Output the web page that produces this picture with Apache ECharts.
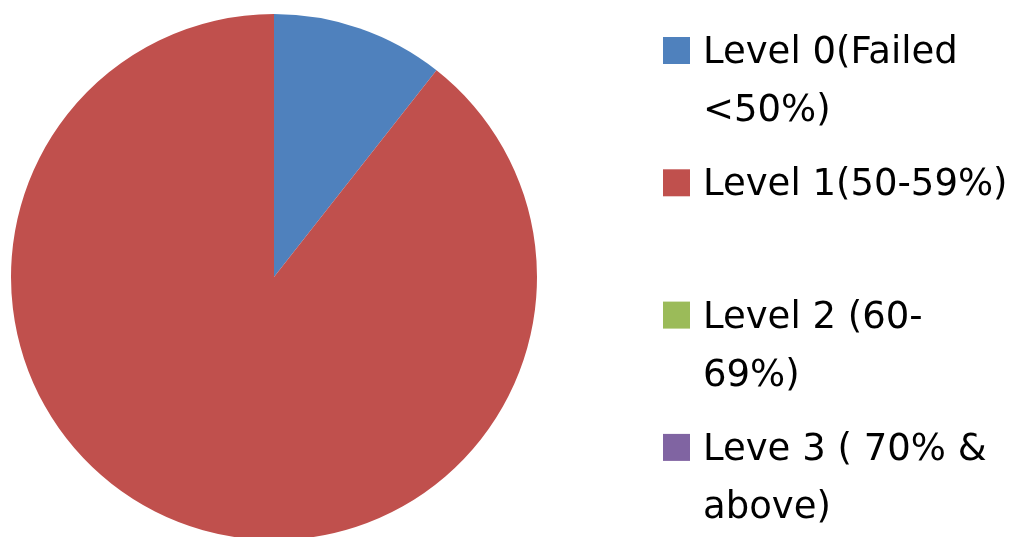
<!DOCTYPE html>
<html>
<head>
<meta charset="utf-8">
<script src="https://cdn.jsdelivr.net/npm/echarts@6/dist/echarts.min.js"></script>
<style>
  html, body { margin: 0; padding: 0; background: #ffffff; }
  #chart { width: 1016px; height: 537px; }
</style>
</head>
<body>
<div id="chart"></div>
<script>
const categories = [
  'Level 0(Failed\n<50%)',
  'Level 1(50-59%)\n ',
  'Level 2 (60-\n69%)',
  'Leve 3 ( 70% &\nabove)'
];
const values = [10.6, 89.4, 0, 0];
const colors = ['#4F81BD', '#C0504D', '#9BBB59', '#8064A2'];

const chart = echarts.init(document.getElementById('chart'));
chart.setOption({
  animation: false,
  color: colors,
  legend: {
    orient: 'vertical',
    left: 663,
    top: -39.5,
    height: 900,
    padding: 0,
    itemWidth: 27,
    itemHeight: 27,
    itemGap: -47.7,
    icon: 'rect',
    selectedMode: false,
    formatter: name => '{s|.}\n{t|' + name.split('\n').join('}\n{t|') + '}',
    textStyle: {
      fontFamily: 'DejaVu Sans',
      fontSize: 37,
      lineHeight: 58,
      color: '#000000',
      padding: [0, 0, 0, 8],
      rich: {
        s: { fontFamily: 'DejaVu Sans', fontSize: 37, lineHeight: 64, color: 'rgba(0,0,0,0)' },
        t: { fontFamily: 'DejaVu Sans', fontSize: 37, lineHeight: 58, color: '#000000' }
      }
    },
    data: categories
  },
  series: [{
    type: 'pie',
    center: [274, 277],
    radius: 263,
    startAngle: 90,
    clockwise: true,
    label: { show: false },
    labelLine: { show: false },
    emphasis: { disabled: true },
    itemStyle: { borderWidth: 0 },
    data: categories.map((c, i) => ({ name: c, value: values[i] }))
  }]
});
</script>
</body>
</html>
